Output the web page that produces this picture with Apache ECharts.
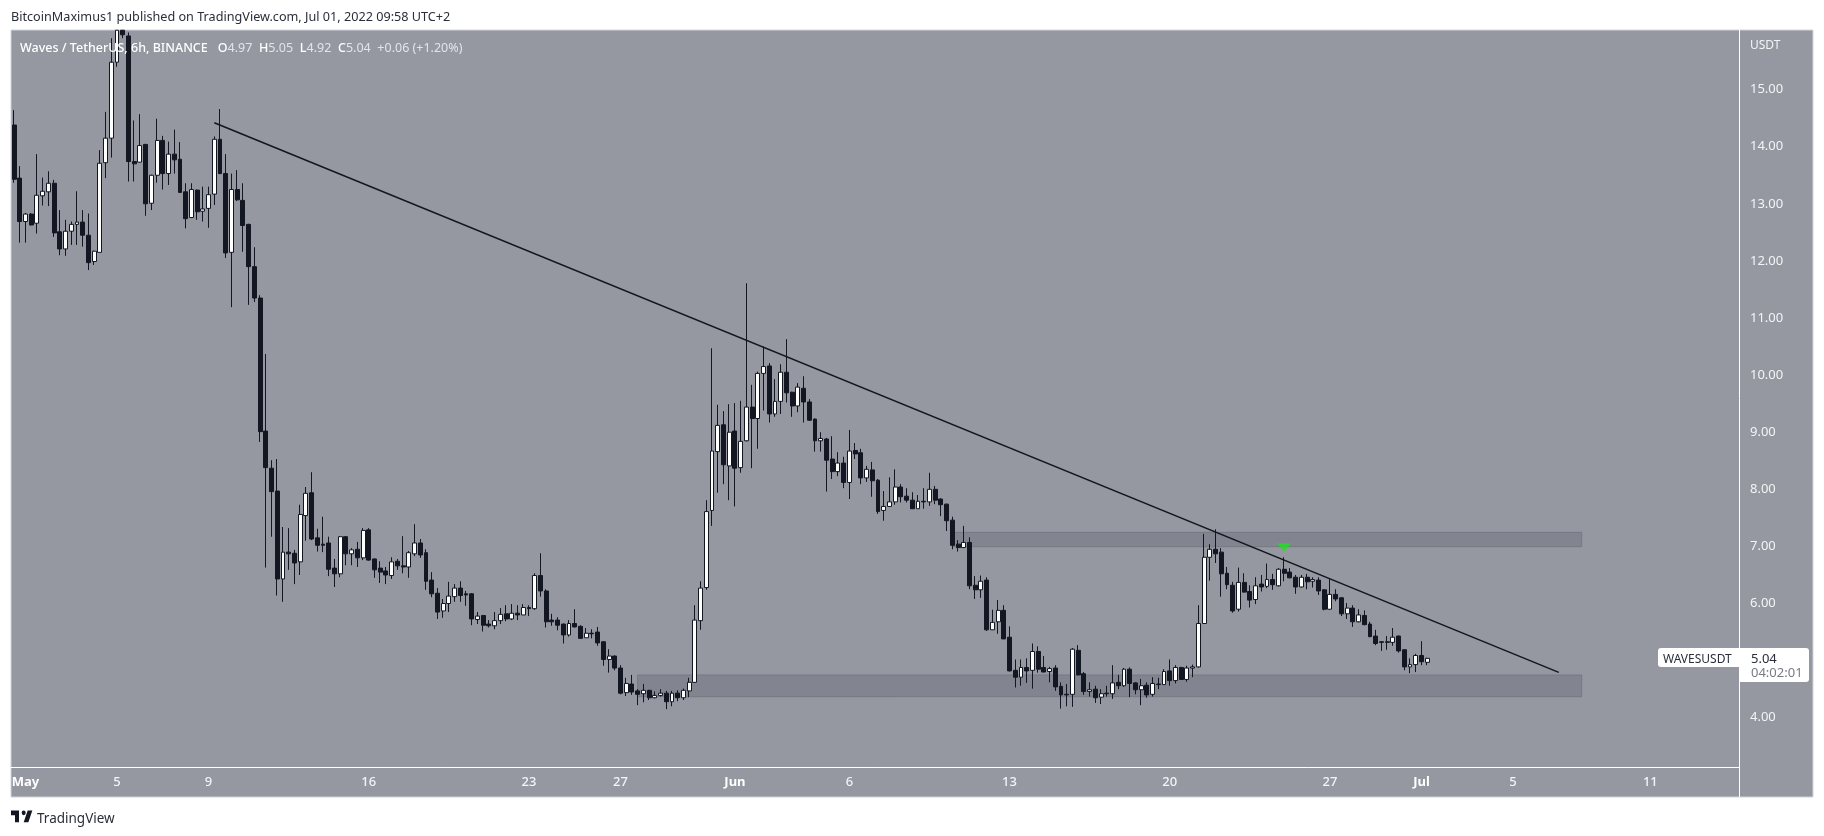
<!DOCTYPE html>
<html>
<head>
<meta charset="utf-8">
<title>WAVESUSDT</title>
<script src="https://cdn.jsdelivr.net/npm/echarts@6/dist/echarts.min.js"></script>
<style>
    html, body { margin: 0; padding: 0; background: #fff; }
    #chart { width: 1824px; height: 836px; }
</style>
</head>
<body>
<div id="chart"></div>
<script>
// 6h candles, first one is Apr 30 12:00
// the two candles at the top run off the chart, they stop at the top edge here
var openValues = [
    14.38,13.45,12.69,12.82,12.66,13.14,13.21,13.36,12.51,12.21,
    12.52,12.64,12.68,12.45,11.99,12.15,13.72,14.15,15.48,16.04,
    15.94,13.74,13.73,14.04,13.01,13.50,14.11,13.53,13.87,13.78,
    13.21,12.76,13.24,12.87,12.92,13.17,14.13,13.53,12.15,13.25,
    13.06,12.64,11.90,11.35,9.02,8.37,7.97,6.43,6.90,6.88,
    6.73,7.54,7.94,7.15,7.04,7.06,6.62,6.52,7.17,6.87,
    6.95,6.80,7.29,6.78,6.62,6.57,6.49,6.74,6.66,6.64,
    6.87,7.06,6.89,6.41,6.18,5.87,6.00,6.12,6.27,6.17,
    6.17,5.72,5.79,5.64,5.61,5.70,5.82,5.73,5.83,5.80,
    5.93,5.91,6.49,6.22,5.71,5.71,5.64,5.45,5.65,5.60,
    5.40,5.48,5.50,5.33,5.02,5.08,4.87,4.44,4.59,4.47,
    4.42,4.48,4.35,4.39,4.43,4.28,4.43,4.35,4.47,4.62,
    5.70,6.28,7.63,8.66,9.13,8.41,9.02,8.38,8.85,9.44,
    9.24,10.03,10.16,9.32,9.54,10.05,9.70,9.46,9.77,9.53,
    9.23,8.85,8.88,8.53,8.31,8.46,8.12,8.68,8.64,8.20,
    8.34,8.16,7.63,7.70,7.78,8.04,7.88,7.81,7.66,7.79,
    7.78,8.00,7.83,7.74,7.46,7.04,6.98,7.07,6.32,6.24,
    6.41,5.54,5.68,5.88,5.41,4.83,4.71,4.88,4.83,5.16,
    4.88,4.81,4.87,4.55,4.41,4.41,5.18,4.77,4.46,4.50,
    4.36,4.43,4.42,4.62,4.56,4.85,4.61,4.49,4.57,4.41,
    4.59,4.58,4.82,4.65,4.88,4.67,4.87,4.89,5.65,6.81,
    6.95,6.90,6.53,6.32,5.90,6.37,6.21,6.07,6.34,6.30,
    6.42,6.31,6.60,6.55,6.46,6.29,6.46,6.39,6.41,6.24,
    5.90,6.16,6.10,5.82,5.92,5.68,5.79,5.64,5.43,5.33,
    5.33,5.32,5.43,5.19,4.89,4.93,5.09,4.97
];
var closeValues = [
    13.43,12.69,12.82,12.63,13.15,13.22,13.36,12.49,12.21,12.52,
    12.64,12.68,12.45,11.97,12.17,13.71,14.15,15.48,16.04,15.96,
    13.74,13.70,14.02,13.00,13.50,14.11,13.53,13.87,13.77,13.20,
    12.74,13.25,12.86,12.91,13.16,14.13,13.53,12.14,13.25,13.07,
    12.62,11.90,11.35,9.01,8.38,7.96,6.43,6.90,6.87,6.71,
    7.56,7.93,7.13,7.02,7.02,6.60,6.52,7.17,6.87,6.94,
    6.80,7.28,6.76,6.59,6.55,6.50,6.73,6.66,6.64,6.89,
    7.06,6.85,6.39,6.17,5.85,6.00,6.13,6.27,6.14,6.15,
    5.73,5.78,5.62,5.61,5.70,5.81,5.73,5.83,5.80,5.93,
    5.91,6.49,6.22,5.68,5.68,5.62,5.45,5.65,5.59,5.39,
    5.48,5.47,5.31,5.02,5.08,4.87,4.43,4.60,4.45,4.41,
    4.48,4.35,4.39,4.43,4.28,4.43,4.35,4.48,4.62,5.71,
    6.27,7.61,8.67,9.12,8.43,9.00,8.37,8.84,9.44,9.24,
    10.03,10.15,9.32,9.54,10.05,9.69,9.46,9.79,9.53,9.21,
    8.85,8.89,8.51,8.31,8.46,8.12,8.67,8.62,8.20,8.35,
    8.15,7.61,7.70,7.78,8.04,7.87,7.81,7.66,7.79,7.78,
    8.00,7.81,7.73,7.45,7.02,6.98,7.07,6.31,6.24,6.39,
    5.54,5.67,5.88,5.38,4.82,4.71,4.88,4.82,5.16,4.85,
    4.80,4.86,4.54,4.40,4.40,5.20,4.75,4.46,4.49,4.35,
    4.42,4.42,4.61,4.56,4.85,4.60,4.49,4.56,4.40,4.60,
    4.58,4.81,4.65,4.88,4.67,4.87,4.89,5.65,6.81,6.95,
    6.87,6.52,6.33,5.87,6.37,6.20,6.06,6.31,6.29,6.42,
    6.33,6.60,6.53,6.45,6.29,6.46,6.38,6.42,6.22,5.90,
    6.16,6.08,5.82,5.92,5.68,5.80,5.63,5.42,5.30,5.32,
    5.32,5.41,5.17,4.89,4.93,5.09,4.98,5.04
];
var lowValues = [
    13.37,12.32,12.32,12.62,12.48,12.97,12.96,12.42,12.10,12.09,
    12.28,12.28,12.25,11.84,11.93,12.15,13.45,13.81,15.40,15.90,
    13.39,13.39,13.72,12.79,12.89,13.37,13.25,13.33,13.53,13.19,
    12.57,12.75,12.72,12.69,12.58,12.98,13.52,12.05,11.19,13.05,
    12.16,11.23,11.28,8.83,6.63,7.17,6.14,6.03,6.59,6.34,
    6.50,7.10,7.11,6.91,6.90,6.48,6.29,6.46,6.67,6.67,
    6.64,6.76,6.75,6.45,6.36,6.34,6.43,6.59,6.53,6.45,
    6.83,6.80,6.24,6.11,5.73,5.75,5.85,6.03,6.03,5.96,
    5.62,5.64,5.51,5.58,5.55,5.64,5.69,5.71,5.71,5.80,
    5.78,5.89,6.12,5.58,5.61,5.53,5.30,5.42,5.58,5.38,
    5.40,5.39,5.26,4.91,4.79,4.83,4.41,4.38,4.40,4.22,
    4.27,4.31,4.34,4.37,4.15,4.20,4.29,4.31,4.36,4.61,
    5.54,6.24,7.36,7.94,8.09,7.81,7.70,8.29,8.84,8.37,
    8.71,9.38,9.17,9.27,9.32,9.52,9.27,9.35,9.17,9.20,
    8.66,8.66,7.96,8.18,8.23,8.02,7.83,8.53,8.09,8.13,
    7.87,7.57,7.45,7.69,7.73,7.77,7.77,7.66,7.66,7.66,
    7.71,7.74,7.53,7.27,6.95,6.91,6.97,6.25,6.08,6.10,
    5.52,5.54,5.47,5.38,4.81,4.53,4.56,4.61,4.51,4.79,
    4.80,4.62,4.47,4.16,4.20,4.19,4.74,4.40,4.37,4.26,
    4.24,4.37,4.33,4.50,4.54,4.36,4.41,4.22,4.35,4.37,
    4.50,4.58,4.56,4.60,4.66,4.63,4.71,4.88,5.64,6.40,
    6.71,6.12,6.25,5.84,5.86,6.19,5.93,5.99,6.21,6.27,
    6.24,6.30,6.39,6.44,6.17,6.28,6.25,6.28,6.15,5.88,
    5.89,6.04,5.78,5.73,5.59,5.67,5.62,5.41,5.27,5.17,
    5.19,5.26,5.14,4.83,4.78,4.80,4.92,4.92
];
var highValues = [
    14.64,13.66,12.84,12.84,13.87,13.46,13.57,13.42,12.89,12.72,
    12.69,13.22,12.89,12.83,12.18,13.94,14.61,15.90,16.04,16.04,
    16.00,14.46,14.57,14.05,13.51,14.49,14.19,14.09,14.30,14.08,
    13.36,13.36,13.25,13.30,13.30,14.18,14.66,13.87,13.53,13.59,
    13.36,12.65,12.24,11.40,10.37,8.51,8.53,7.34,7.32,6.94,
    7.73,8.04,8.30,7.31,7.52,7.17,6.78,7.18,7.18,6.97,
    7.08,7.32,7.32,6.79,6.74,6.64,6.81,6.78,7.18,6.92,
    7.39,7.13,6.95,6.55,6.27,6.08,6.38,6.34,6.39,6.22,
    6.18,5.85,5.80,5.71,5.85,5.92,5.97,5.99,5.97,5.99,
    5.97,6.53,6.88,6.25,5.82,5.76,5.65,5.71,5.90,5.62,
    5.57,5.55,5.59,5.34,5.20,5.09,4.92,4.70,4.75,4.50,
    4.59,4.49,4.46,4.50,4.47,4.47,4.48,4.51,4.70,5.97,
    6.39,7.81,10.47,9.48,9.37,9.49,9.51,9.55,11.61,9.83,
    10.06,10.50,10.21,9.93,10.19,10.63,9.71,9.86,9.98,9.58,
    9.24,9.00,8.90,8.93,8.65,8.57,9.04,8.81,8.71,8.41,
    8.48,8.18,7.97,8.21,8.35,8.09,8.02,7.95,7.90,8.02,
    8.29,8.06,7.84,7.75,7.52,7.11,7.36,7.16,6.48,6.49,
    6.46,5.89,6.06,5.97,5.60,5.02,5.02,5.04,5.30,5.25,
    5.08,4.89,4.92,4.62,4.59,5.22,5.27,4.80,4.62,4.56,
    4.50,4.56,4.92,4.75,4.87,4.88,4.62,4.68,4.62,4.71,
    4.70,4.85,5.02,4.92,4.89,4.91,4.93,5.97,7.22,7.04,
    7.30,6.97,6.64,6.38,6.63,6.53,6.32,6.46,6.50,6.70,
    6.52,6.62,6.81,6.62,6.50,6.50,6.52,6.46,6.46,6.25,
    6.43,6.25,6.11,6.01,5.97,5.90,5.88,5.68,5.54,5.34,
    5.43,5.57,5.44,5.20,5.04,5.12,5.34,5.05
];

// x轴刻度
var xTickDates = ['2022-05-01T00:00','2022-05-05T00:00','2022-05-09T00:00','2022-05-16T00:00','2022-05-23T00:00','2022-05-27T00:00','2022-06-01T00:00','2022-06-06T00:00','2022-06-13T00:00','2022-06-20T00:00','2022-06-27T00:00','2022-07-01T00:00','2022-07-05T00:00','2022-07-11T00:00'];
var xTickLabels = ['May','5','9','16','23','27','Jun','6','13','20','27','Jul','5','11'];
var yTickValues = [4,5,6,7,8,9,10,11,12,13,14,15];

// drawings on the chart
var trendDates = ['2022-05-09T06:00','2022-07-07T00:00'];
var trendValues = [14.42,4.795];
var upperZoneDates = ['2022-06-10T12:00','2022-07-08T00:00'];
var upperZoneValues = [7.247,6.995];
var lowerZoneDates = ['2022-05-27T18:00','2022-07-08T00:00'];
var lowerZoneValues = [4.748,4.368];
var signalDates = ['2022-06-25T00:00'];
var signalValues = [6.98];

// 类目：每6小时一根，右边留出空白
var categories = [];
for (var i = 0; i < 302; i++) {
    categories.push(new Date(Date.UTC(2022, 3, 30, 12) + i * 6 * 3600000).toISOString().slice(0, 16));
}

var candleData = [];
for (var j = 0; j < openValues.length; j++) {
    candleData.push([openValues[j], closeValues[j], lowValues[j], highValues[j]]);
}

var panelColor = '#9598a1';
var inkColor = '#131722';
var labelFont = '"Noto Sans", sans-serif';

var zoneStyle = { color: '#82858f', borderColor: '#767882', borderWidth: 1 };

var option = {
    animation: false,
    backgroundColor: '#fff',
    grid: { left: 11.2, width: 1727.8, top: 30, height: 737 },
    xAxis: {
        type: 'category',
        data: categories,
        axisLine: { show: true, lineStyle: { color: '#fff', width: 1 } },
        axisTick: { show: false },
        splitLine: { show: false },
        axisLabel: {
            margin: 9,
            color: '#f4f4f6',
            fontFamily: labelFont,
            fontSize: 13,
            fontWeight: 500,
            interval: function (index, value) {
                return xTickDates.indexOf(value) >= 0;
            },
            formatter: function (value) {
                var text = xTickLabels[xTickDates.indexOf(value)];
                return isNaN(text) ? '{m|' + text + '}' : text;
            },
            rich: { m: { fontWeight: 700, fontSize: 13, color: '#fff', fontFamily: labelFont } }
        }
    },
    yAxis: {
        type: 'value',
        position: 'right',
        min: 3.137,
        max: 16.044,
        axisLine: { show: true, lineStyle: { color: '#fff', width: 1 } },
        axisTick: { show: false },
        splitLine: { show: false },
        axisLabel: {
            customValues: yTickValues,
            margin: 11,
            padding: [3, 0, 0, 0],
            color: '#f4f4f6',
            fontFamily: labelFont,
            fontSize: 13,
            formatter: function (value) { return value.toFixed(2); }
        }
    },
    series: [
        {
            type: 'candlestick',
            data: candleData,
            barWidth: 4.4,
            itemStyle: {
                color: '#fff',
                color0: inkColor,
                borderColor: inkColor,
                borderColor0: inkColor,
                borderColorDoji: inkColor,
                borderWidth: 1
            },
            markArea: {
                silent: true,
                data: [
                    [
                        { xAxis: upperZoneDates[0], yAxis: upperZoneValues[0], itemStyle: zoneStyle },
                        { xAxis: upperZoneDates[1], yAxis: upperZoneValues[1] }
                    ],
                    [
                        { xAxis: lowerZoneDates[0], yAxis: lowerZoneValues[0], itemStyle: zoneStyle },
                        { xAxis: lowerZoneDates[1], yAxis: lowerZoneValues[1] }
                    ]
                ]
            }
        },
        {
            type: 'line',
            data: [[trendDates[0], trendValues[0]], [trendDates[1], trendValues[1]]],
            symbol: 'none',
            z: 5,
            lineStyle: { color: '#14161c', width: 1.5 }
        },
        {
            type: 'scatter',
            data: [[signalDates[0], signalValues[0]]],
            symbol: 'triangle',
            symbolRotate: 180,
            symbolSize: [14, 8],
            z: 6,
            itemStyle: { color: '#1fe01f' }
        }
    ],
    graphic: [
        // 灰色面板
        { type: 'rect', z: -10, shape: { x: 11, y: 30, width: 1802, height: 767 }, style: { fill: panelColor, stroke: '#d1d4dc', lineWidth: 1 } },
        { type: 'line', z: 1, shape: { x1: 1739.5, y1: 767, x2: 1739.5, y2: 797 }, style: { stroke: '#fff', lineWidth: 1 } },
        {
            type: 'text', x: 11, y: 17, z: 10,
            style: { text: 'BitcoinMaximus1 published on TradingView.com, Jul 01, 2022 09:58 UTC+2', fill: '#2a2e39', font: '12.65px ' + labelFont, textVerticalAlign: 'middle' }
        },
        {
            type: 'text', x: 20, y: 48, z: 10,
            style: {
                text: '{t|Waves / TetherUS, 6h, BINANCE}   {t|O}{v|4.97}  {t|H}{v|5.05}  {t|L}{v|4.92}  {t|C}{v|5.04}  {v|+0.06 (+1.20%)}',
                textVerticalAlign: 'middle',
                rich: {
                    t: { fill: '#fff', font: '500 12.5px ' + labelFont },
                    v: { fill: '#e3e4e8', font: '12.5px ' + labelFont }
                }
            }
        },
        { type: 'text', x: 1750, y: 46, z: 10, style: { text: 'USDT', fill: '#f4f4f6', font: '12px ' + labelFont, textVerticalAlign: 'middle' } },
        // 最新价标签
        { type: 'rect', z: 10, shape: { x: 1658, y: 648, width: 81, height: 19, r: [3, 0, 0, 3] }, style: { fill: '#fff' } },
        { type: 'rect', z: 10, shape: { x: 1739, y: 648, width: 70, height: 34, r: [0, 3, 3, 0] }, style: { fill: '#fff' } },
        { type: 'text', x: 1663, y: 659.5, z: 11, style: { text: 'WAVESUSDT', fill: '#2a2e39', font: '12px ' + labelFont, textVerticalAlign: 'middle' } },
        { type: 'text', x: 1751, y: 659.5, z: 11, style: { text: '5.04', fill: '#2a2e39', font: '13px ' + labelFont, textVerticalAlign: 'middle' } },
        { type: 'text', x: 1751, y: 673.5, z: 11, style: { text: '04:02:01', fill: '#787b86', font: '13px ' + labelFont, textVerticalAlign: 'middle' } },
        // logo
        {
            type: 'group', x: 9.67, y: 805.8, scaleX: 0.667, scaleY: 0.78,
            children: [
                { type: 'polygon', z: 10, shape: { points: [[14, 6], [2, 6], [2, 12], [8, 12], [8, 21], [14, 21]] }, style: { fill: inkColor } },
                { type: 'polygon', z: 10, shape: { points: [[28, 21], [21, 21], [27, 6], [34, 6]] }, style: { fill: inkColor } },
                { type: 'circle', z: 10, shape: { cx: 21, cy: 9, r: 3 }, style: { fill: inkColor } }
            ]
        },
        { type: 'text', x: 37, y: 819, z: 10, style: { text: 'TradingView', fill: '#2a2e39', font: '13.5px ' + labelFont, textVerticalAlign: 'middle' } }
    ]
};

var myChart = echarts.init(document.getElementById('chart'));
myChart.setOption(option);
</script>
</body>
</html>
